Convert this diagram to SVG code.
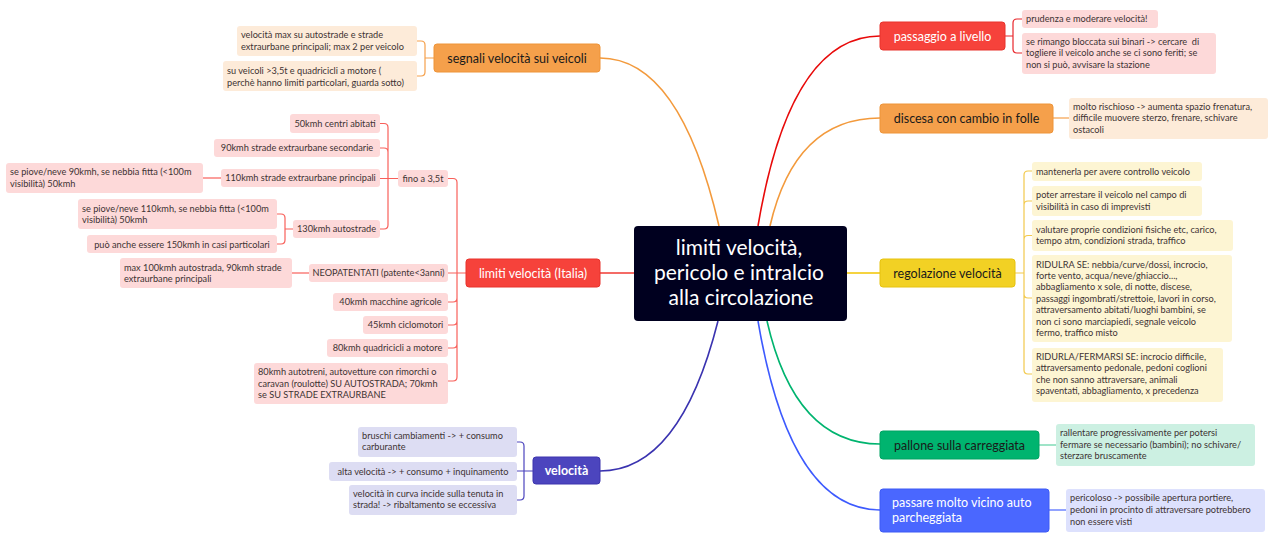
<svg xmlns="http://www.w3.org/2000/svg" width="1280" height="541" viewBox="0 0 1280 541">
<style>
text{font-family:Lato,"Open Sans","Liberation Sans",sans-serif}
.t{font-size:9.2px;fill:#3d3333}
.b{font-size:12.5px;fill:#1a1a1a}
.w{fill:#ffffff}
.m{fill:none;stroke-width:1.6}
.k{fill:none;stroke-width:1.2}
.mid{text-anchor:middle}
.or{fill:#F5A04B;stroke:#EE9438}
.orc{fill:#FDEBD9}
.rd{fill:#F6423B;stroke:#E8332C}
.rdc{fill:#FDD9D9}
.in{fill:#4C45BE;stroke:#3C35AE}
.inc{fill:#DDDDF3}
.ye{fill:#F2D124;stroke:#E6C20E}
.yec{fill:#FDF5D3}
.gr{fill:#00B46F;stroke:#00A363}
.grc{fill:#CCF0E2}
.bl{fill:#4A67FF;stroke:#3D5AF5}
.blc{fill:#DDE1FD}
</style>

<g id="connectors">
  <path class="m" stroke="#F39A3C" d="M719,226 Q680,58 600,58"/>
  <path class="m" stroke="#E80A0A" d="M758,226 Q790,36 880,36"/>
  <path class="m" stroke="#F39A3C" d="M770,226 Q795,118 880,118"/>
  <path class="m" stroke="#F2C500" d="M847,273 H880"/>
  <path class="m" stroke="#F03A33" d="M634,273 H600"/>
  <path class="m" stroke="#3A33B0" d="M718,321 Q680,471 600,471"/>
  <path class="m" stroke="#00B46F" d="M767,321 Q795,444 880,444"/>
  <path class="m" stroke="#3D5AFE" d="M758,321 Q790,510 880,510"/>

  <path class="k" stroke="#F5A04B" d="M434,58 H425 M425,58 V45 Q425,41 421,41 H417 M425,58 V72 Q425,76 421,76 H417"/>
  <path class="k" stroke="#F8605A" d="M466,273 H448 M457,273 V182.5 Q457,178.5 453,178.5 H448 M457,273 V377 Q457,381 453,381 H448 M457,298 Q457,302 453,302 H448 M457,321 Q457,325 453,325 H448 M457,344 Q457,348 453,348 H448"/>
  <path class="k" stroke="#F8605A" d="M398,178.5 H380 M388,178.5 V127.5 Q388,123.5 384,123.5 H380 M388,152 Q388,148 384,148 H380 M388,178.5 V225 Q388,229 384,229 H380"/>
  <path class="k" stroke="#F8605A" d="M221,178 H203"/>
  <path class="k" stroke="#F8605A" d="M293,229 H285 M285,229 V218 Q285,214 281,214 H277 M285,229 V240 Q285,244 281,244 H277"/>
  <path class="k" stroke="#F8605A" d="M309,273 H292"/>
  <path class="k" stroke="#4C45BE" d="M533,471 H517 M524,471 V446 Q524,442 520,442 H517 M524,471 V496 Q524,500 520,500 H517"/>
  <path class="k" stroke="#E8262B" d="M1005,36 H1013 M1013,36 V23 Q1013,19 1017,19 H1022 M1013,36 V49 Q1013,53 1017,53 H1022"/>
  <path class="k" stroke="#F5A04B" d="M1053,118 H1069"/>
  <path class="k" stroke="#F2C94C" d="M1015,273 H1024 M1024,273 V175 Q1024,171 1028,171 H1032 M1024,205 Q1024,201 1028,201 H1032 M1024,239.5 Q1024,235.5 1028,235.5 H1032 M1024,294 Q1024,298 1028,298 H1032 M1024,273 V370 Q1024,374 1028,374 H1032"/>
  <path class="k" stroke="#5FD3A3" d="M1039,445 H1056"/>
  <path class="k" stroke="#4A67FF" d="M1049,510 H1066"/>
</g>

<g id="center">
  <rect x="634" y="226" width="213" height="95" rx="4" fill="#00001F"/>
  <text class="w mid" x="739" y="255" font-size="21">limiti velocità,</text>
  <text class="w mid" x="739" y="280" font-size="21">pericolo e intralcio</text>
  <text class="w mid" x="741" y="305" font-size="21">alla circolazione</text>
</g>

<g id="segnali">
  <rect class="or" x="434" y="44" width="166" height="28" rx="3"/>
  <text class="b mid" x="517" y="62.5">segnali velocità sui veicoli</text>
</g>
<g id="segnali-1">
  <rect class="orc" x="237" y="26" width="180" height="30" rx="3"/>
  <text class="t" x="241" y="38">velocità max su autostrade e strade</text>
  <text class="t" x="241" y="49.5">extraurbane principali; max 2 per veicolo</text>
</g>
<g id="segnali-2">
  <rect class="orc" x="223" y="61" width="194" height="30" rx="3"/>
  <text class="t" x="227" y="74">su veicoli &gt;3,5t e quadricicli a motore (</text>
  <text class="t" x="227" y="85.5">perchè hanno limiti particolari, guarda sotto)</text>
</g>

<g id="italia">
  <rect class="rd" x="466" y="259" width="134" height="28" rx="3"/>
  <text class="b w mid" x="533" y="277.5">limiti velocità (Italia)</text>
</g>
<g id="fino">
  <rect class="rdc" x="398" y="170" width="50" height="17" rx="3"/>
  <text class="t mid" x="423" y="181.8">fino a 3,5t</text>
</g>
<g id="f50">
  <rect class="rdc" x="290" y="114" width="90" height="19" rx="3"/>
  <text class="t mid" x="335" y="127">50kmh centri abitati</text>
</g>
<g id="f90">
  <rect class="rdc" x="214" y="139" width="166" height="18" rx="3"/>
  <text class="t mid" x="297" y="151.3">90kmh strade extraurbane secondarie</text>
</g>
<g id="f110">
  <rect class="rdc" x="221" y="169" width="159" height="18" rx="3"/>
  <text class="t mid" x="300.5" y="181.3">110kmh strade extraurbane principali</text>
</g>
<g id="f110-1">
  <rect class="rdc" x="6" y="163" width="197" height="30" rx="3"/>
  <text class="t" x="10" y="175">se piove/neve 90kmh, se nebbia fitta (&lt;100m</text>
  <text class="t" x="10" y="186.5">visibilità) 50kmh</text>
</g>
<g id="f130">
  <rect class="rdc" x="293" y="220" width="87" height="18" rx="3"/>
  <text class="t mid" x="336.5" y="232.3">130kmh autostrade</text>
</g>
<g id="f130-1">
  <rect class="rdc" x="78" y="199" width="199" height="30" rx="3"/>
  <text class="t" x="82" y="211.5">se piove/neve 110kmh, se nebbia fitta (&lt;100m</text>
  <text class="t" x="82" y="223">visibilità) 50kmh</text>
</g>
<g id="f130-2">
  <rect class="rdc" x="87" y="235" width="190" height="18" rx="3"/>
  <text class="t mid" x="182" y="247.5">può anche essere 150kmh in casi particolari</text>
</g>
<g id="neop">
  <rect class="rdc" x="309" y="264" width="139" height="18" rx="3"/>
  <text class="t mid" x="378.5" y="276.3">NEOPATENTATI (patente&lt;3anni)</text>
</g>
<g id="neop-1">
  <rect class="rdc" x="120" y="258" width="172" height="30" rx="3"/>
  <text class="t" x="124" y="270.5">max 100kmh autostrada, 90kmh strade</text>
  <text class="t" x="124" y="282">extraurbane principali</text>
</g>
<g id="k40">
  <rect class="rdc" x="333" y="293" width="115" height="18" rx="3"/>
  <text class="t mid" x="390.5" y="305.3">40kmh macchine agricole</text>
</g>
<g id="k45">
  <rect class="rdc" x="363" y="316" width="85" height="18" rx="3"/>
  <text class="t mid" x="405.5" y="328.3">45kmh ciclomotori</text>
</g>
<g id="k80q">
  <rect class="rdc" x="327" y="339" width="121" height="18" rx="3"/>
  <text class="t mid" x="387.5" y="351.3">80kmh quadricicli a motore</text>
</g>
<g id="k80a">
  <rect class="rdc" x="254" y="363" width="194" height="41" rx="3"/>
  <text class="t" x="258" y="375">80kmh autotreni, autovetture con rimorchi o</text>
  <text class="t" x="258" y="386.5">caravan (roulotte) SU AUTOSTRADA; 70kmh</text>
  <text class="t" x="258" y="398">se SU STRADE EXTRAURBANE</text>
</g>

<g id="velocita">
  <rect class="in" x="533" y="457" width="67" height="27" rx="3"/>
  <text class="b w mid" x="566.5" y="475" font-weight="bold">velocità</text>
</g>
<g id="vel-1">
  <rect class="inc" x="358" y="427" width="159" height="30" rx="3"/>
  <text class="t" x="362" y="438.5">bruschi cambiamenti -&gt; + consumo</text>
  <text class="t" x="362" y="450">carburante</text>
</g>
<g id="vel-2">
  <rect class="inc" x="329" y="462" width="188" height="19" rx="3"/>
  <text class="t mid" x="423" y="474.5">alta velocità -&gt; + consumo + inquinamento</text>
</g>
<g id="vel-3">
  <rect class="inc" x="349" y="485" width="168" height="30" rx="3"/>
  <text class="t" x="353" y="496.5">velocità in curva incide sulla tenuta in</text>
  <text class="t" x="353" y="508">strada! -&gt; ribaltamento se eccessiva</text>
</g>

<g id="passaggio">
  <rect class="rd" x="880" y="22" width="125" height="28" rx="3"/>
  <text class="b w mid" x="942.5" y="40.5">passaggio a livello</text>
</g>
<g id="pass-1">
  <rect class="rdc" x="1022" y="10" width="136" height="18" rx="3"/>
  <text class="t" x="1026" y="22">prudenza e moderare velocità!</text>
</g>
<g id="pass-2">
  <rect class="rdc" x="1022" y="33" width="194" height="41" rx="3"/>
  <text class="t" x="1026" y="44.5">se rimango bloccata sui binari -&gt; cercare&#160; di</text>
  <text class="t" x="1026" y="56">togliere il veicolo anche se ci sono feriti; se</text>
  <text class="t" x="1026" y="67.5">non si può, avvisare la stazione</text>
</g>

<g id="discesa">
  <rect class="or" x="880" y="104" width="173" height="29" rx="3"/>
  <text class="b mid" x="966.5" y="123">discesa con cambio in folle</text>
</g>
<g id="disc-1">
  <rect class="orc" x="1069" y="98" width="199" height="41" rx="3"/>
  <text class="t" x="1073" y="109.5">molto rischioso -&gt; aumenta spazio frenatura,</text>
  <text class="t" x="1073" y="121">difficile muovere sterzo, frenare, schivare</text>
  <text class="t" x="1073" y="132.5">ostacoli</text>
</g>

<g id="regolazione">
  <rect class="ye" x="880" y="259" width="135" height="28" rx="3"/>
  <text class="b mid" x="947.5" y="277.5">regolazione velocità</text>
</g>
<g id="reg-1">
  <rect class="yec" x="1032" y="162" width="170" height="19" rx="3"/>
  <text class="t" x="1036" y="174.5">mantenerla per avere controllo veicolo</text>
</g>
<g id="reg-2">
  <rect class="yec" x="1032" y="186" width="170" height="30" rx="3"/>
  <text class="t" x="1036" y="198">poter arrestare il veicolo nel campo di</text>
  <text class="t" x="1036" y="209.5">visibilità in caso di imprevisti</text>
</g>
<g id="reg-3">
  <rect class="yec" x="1032" y="220" width="201" height="31" rx="3"/>
  <text class="t" x="1036" y="232.5">valutare proprie condizioni fisiche etc, carico,</text>
  <text class="t" x="1036" y="244">tempo atm, condizioni strada, traffico</text>
</g>
<g id="reg-4">
  <rect class="yec" x="1032" y="255" width="200" height="87" rx="3"/>
  <text class="t" x="1036" y="267.5">RIDULRA SE: nebbia/curve/dossi, incrocio,</text>
  <text class="t" x="1036" y="278.9">forte vento, acqua/neve/ghiaccio...,</text>
  <text class="t" x="1036" y="290.3">abbagliamento x sole, di notte, discese,</text>
  <text class="t" x="1036" y="301.7">passaggi ingombrati/strettoie, lavori in corso,</text>
  <text class="t" x="1036" y="313.1">attraversamento abitati/luoghi bambini, se</text>
  <text class="t" x="1036" y="324.5">non ci sono marciapiedi, segnale veicolo</text>
  <text class="t" x="1036" y="335.9">fermo, traffico misto</text>
</g>
<g id="reg-5">
  <rect class="yec" x="1032" y="348" width="191" height="54" rx="3"/>
  <text class="t" x="1036" y="360">RIDURLA/FERMARSI SE: incrocio difficile,</text>
  <text class="t" x="1036" y="371.4">attraversamento pedonale, pedoni coglioni</text>
  <text class="t" x="1036" y="382.8">che non sanno attraversare, animali</text>
  <text class="t" x="1036" y="394.2">spaventati, abbagliamento, x precedenza</text>
</g>

<g id="pallone">
  <rect class="gr" x="880" y="431" width="159" height="28" rx="3"/>
  <text class="b mid" x="959.5" y="449.5">pallone sulla carreggiata</text>
</g>
<g id="pall-1">
  <rect class="grc" x="1056" y="424" width="199" height="42" rx="3"/>
  <text class="t" x="1060" y="436">rallentare progressivamente per potersi</text>
  <text class="t" x="1060" y="447.5">fermare se necessario (bambini); no schivare/</text>
  <text class="t" x="1060" y="459">sterzare bruscamente</text>
</g>

<g id="passare">
  <rect class="bl" x="880" y="489" width="169" height="43" rx="3"/>
  <text class="b w" x="892" y="506.5">passare molto vicino auto</text>
  <text class="b w" x="892" y="522">parcheggiata</text>
</g>
<g id="passare-1">
  <rect class="blc" x="1066" y="489" width="199" height="43" rx="3"/>
  <text class="t" x="1070" y="501">pericoloso -&gt; possibile apertura portiere,</text>
  <text class="t" x="1070" y="513">pedoni in procinto di attraversare potrebbero</text>
  <text class="t" x="1070" y="525">non essere visti</text>
</g>
</svg>
